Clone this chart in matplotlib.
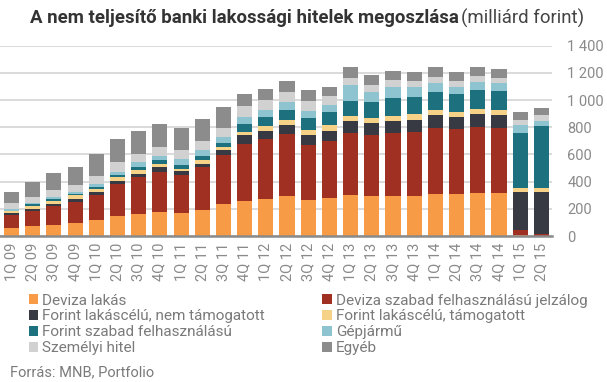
import numpy as np
import matplotlib
matplotlib.use("Agg")
import matplotlib.pyplot as plt
from matplotlib.patches import Patch
from matplotlib.ticker import FuncFormatter

plt.rcParams['font.family'] = ['Roboto', 'DejaVu Sans']

quarters = ['1Q 09', '2Q 09', '3Q 09', '4Q 09', '1Q 10', '2Q 10', '3Q 10', '4Q 10',
            '1Q 11', '2Q 11', '3Q 11', '4Q 11', '1Q 12', '2Q 12', '3Q 12', '4Q 12',
            '1Q 13', '2Q 13', '3Q 13', '4Q 13', '1Q 14', '2Q 14', '3Q 14', '4Q 14',
            '1Q 15', '2Q 15']

# milliard forint
deviza_lakas = [59, 74, 81, 96, 119, 148, 163, 178, 170, 193, 237, 259, 274, 296, 267, 281,
                304, 296, 296, 296, 311, 311, 319, 319, 7, 2]
deviza_szabad = [97, 111, 141, 156, 185, 237, 274, 296, 282, 311, 356, 415, 437, 452, 400, 415,
                 452, 445, 460, 467, 482, 474, 481, 474, 37, 13]
forint_nem_tam = [14, 15, 15, 22, 22, 22, 22, 30, 29, 29, 37, 67, 59, 67, 74, 74,
                  88, 89, 88, 89, 96, 89, 96, 96, 282, 311]
forint_tam = [13, 22, 20, 30, 22, 30, 30, 29, 15, 23, 22, 22, 37, 37, 37, 45,
              37, 37, 37, 44, 37, 37, 37, 37, 30, 30]
forint_szabad = [3, 10, 17, 7, 15, 15, 22, 23, 30, 29, 29, 59, 67, 74, 89, 96,
                 112, 118, 134, 126, 133, 133, 141, 141, 400, 451]
gepjarmu = [14, 12, 15, 15, 22, 22, 30, 29, 44, 45, 45, 52, 52, 59, 51, 52,
            118, 74, 81, 74, 67, 52, 59, 59, 59, 37]
szemelyi = [44, 45, 52, 52, 59, 67, 59, 67, 60, 66, 67, 82, 74, 74, 75, 67,
            52, 52, 52, 45, 44, 45, 45, 37, 37, 45]
egyeb = [82, 111, 126, 133, 156, 170, 170, 170, 163, 163, 155, 88, 81, 82, 81, 66,
         81, 74, 67, 66, 74, 66, 66, 67, 59, 52]

series = [deviza_lakas, deviza_szabad, forint_nem_tam, forint_tam,
          forint_szabad, gepjarmu, szemelyi, egyeb]
names = ['Deviza lakás', 'Deviza szabad felhasználású jelzálog',
         'Forint lakáscélú, nem támogatott', 'Forint lakáscélú, támogatott',
         'Forint szabad felhasználású', 'Gépjármű', 'Személyi hitel', 'Egyéb']
colors = ['#F79B46', '#A03022', '#373A43', '#F6D289',
          '#1D717E', '#8EC4CF', '#D1D1D1', '#8C8C8C']

fig = plt.figure(figsize=(6.07, 3.82), dpi=100)
ax = fig.add_axes([0.0, 1 - 236 / 382, 552 / 607, (236 - 45.7) / 382])

x = np.arange(len(quarters))
bottom = np.zeros(len(quarters))
for vals, col in zip(series, colors):
    ax.bar(x, vals, width=0.71, bottom=bottom, color=col, zorder=3)
    bottom += np.array(vals)

ax.set_xlim(-0.54, len(quarters) - 0.5)
ax.set_ylim(0, 1400)
ax.set_yticks(range(0, 1401, 200))
ax.yaxis.set_major_formatter(FuncFormatter(lambda v, p: f'{int(v):,}'.replace(',', ' ')))
ax.yaxis.tick_right()
ax.tick_params(axis='y', length=0, pad=11, labelsize=10.5, labelcolor='#8a8a8a')
ax.grid(axis='y', color='#dadada', linewidth=1.4, zorder=0)

ax.set_xticks(x)
ax.set_xticklabels(quarters, rotation=90, fontsize=10.5, color='#8a8a8a')
ax.tick_params(axis='x', length=0, pad=5)

for s in ['top', 'left', 'right']:
    ax.spines[s].set_visible(False)
ax.spines['bottom'].set_color('#8a8a8a')
ax.spines['bottom'].set_linewidth(1.8)
ax.spines['bottom'].set_zorder(4)

# title: bold part + normal part
t1 = fig.text(30 / 607, 1 - 18 / 382, 'A nem teljesítő banki lakossági hitelek megoszlása',
              fontsize=13.4, fontweight='bold', color='#333333', va='center', ha='left')
fig.canvas.draw()
bb = t1.get_window_extent()
fig.text(bb.x1 / fig.bbox.width + 0.004, 1 - 18 / 382, '(milliárd forint)',
         fontsize=13.4, color='#444444', va='center', ha='left')

# legend, two columns (filled column-wise)
order = [0, 2, 4, 6, 1, 3, 5, 7]
handles = [Patch(facecolor=colors[i], edgecolor='none', label=names[i]) for i in order]
leg = fig.legend(handles=handles, ncol=2, loc='upper left',
                 bbox_to_anchor=(21 / 607, 1 - 286 / 382), frameon=False,
                 fontsize=11, handlelength=0.6, handleheight=0.6, handletextpad=0.3,
                 columnspacing=3.75, labelspacing=0.12, borderpad=0)
for txt in leg.get_texts():
    txt.set_color('#7a7a7a')

fig.text(10 / 607, 1 - 372 / 382, 'Forrás: MNB, Portfolio', fontsize=10.5,
         color='#7a7a7a', va='center', ha='left')

fig.savefig('out.png', dpi=100)
